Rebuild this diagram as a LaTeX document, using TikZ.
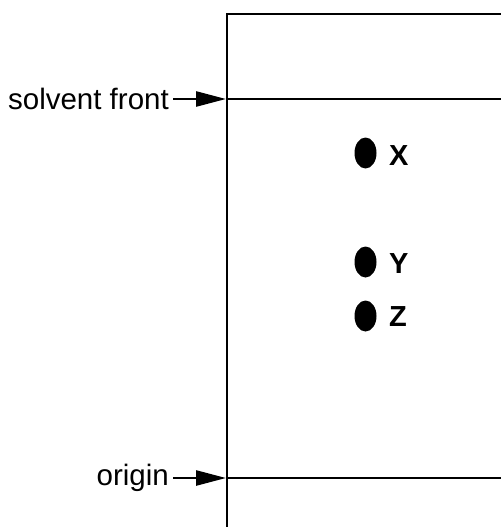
\documentclass[tikz,border=0pt]{standalone}
\usepackage{fontspec}
\setmainfont{Liberation Sans}
\usetikzlibrary{arrows.meta,shapes.geometric}

\begin{document}
\begin{tikzpicture}[x=1pt,y=-1pt,
    plate/.style={line width=2.6pt},
    spot/.style={ellipse, fill=black, minimum width=22pt, minimum height=31pt, inner sep=0pt},
    spotlabel/.style={anchor=west, inner sep=0pt, font=\fontsize{29}{34}\selectfont\bfseries},
    marker/.style={anchor=east, inner sep=0pt, font=\fontsize{29.5}{34}\selectfont},
    pointer/.style={line width=2.6pt, -{Triangle[length=30pt,width=15pt]}}]
    \useasboundingbox (0,0) rectangle (501,527);

    % the plate, cut off at the right and at the bottom
    \draw [plate] (227,527) -- (227,14) -- (501,14);
    \draw [plate] (227,99) -- (501,99);
    \draw [plate] (227,478) -- (501,478);
    \coordinate (front) at (226,99);
    \coordinate (start) at (226,478);

    % labels and arrows
    \node [marker] (frontlabel) at (169,99) {solvent front};
    \node [marker] (originlabel) at (169,478) {origin};
    \draw [pointer] ([xshift=4pt]frontlabel.east) -- (front);
    \draw [pointer] ([xshift=4pt]originlabel.east) -- (start);

    % spots
    \node [spot] (spotx) at (365.5,153) {};
      \node [spotlabel] (x) at (389,156) {X};
    \node [spot] (spoty) at (365.5,262) {};
      \node [spotlabel] (y) at (389,264) {Y};
    \node [spot] (spotz) at (365.5,316) {};
      \node [spotlabel] (z) at (389,317) {Z};
\end{tikzpicture}
\end{document}
